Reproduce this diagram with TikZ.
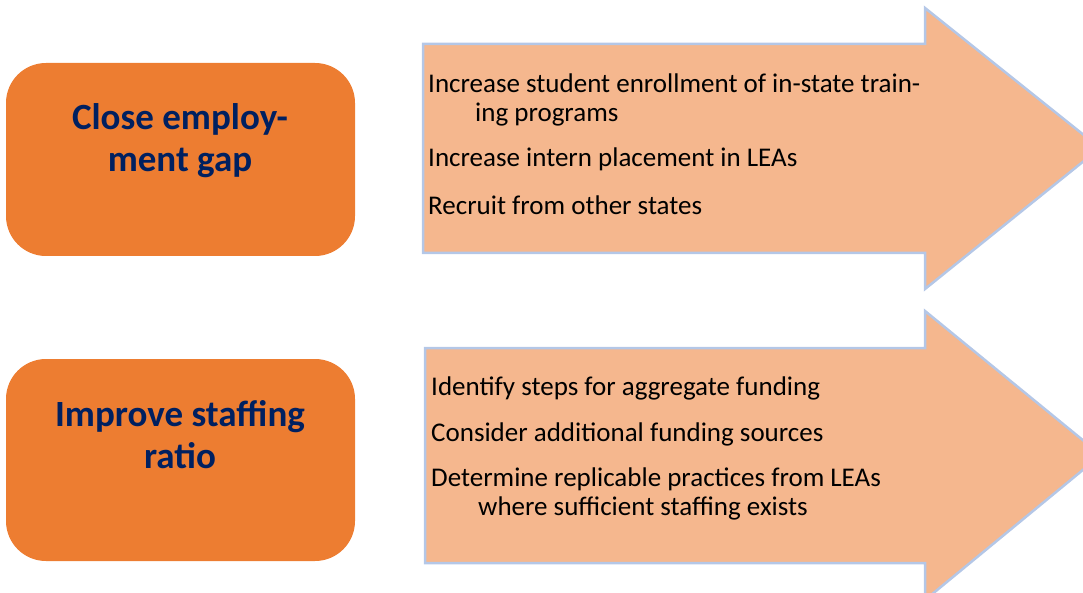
\documentclass[tikz,border=0pt]{standalone}
\usepackage{fontspec}
\setmainfont{Carlito}
\usepackage{tikz}
\usetikzlibrary{positioning}
\definecolor{goalbg}{RGB}{237,125,49}
\definecolor{goalfg}{RGB}{0,32,96}
\definecolor{arrbg}{RGB}{245,183,142}
\definecolor{arrline}{RGB}{180,199,231}
\tikzset{
  goal/.style={fill=goalbg,rounded corners=40pt,minimum width=349pt,inner sep=0pt},
  gtxt/.style={align=center,font=\fontsize{37}{42}\selectfont\bfseries,text=goalfg},
  arr/.style={fill=arrbg,draw=arrline,line width=2.5pt,line join=miter},
  item/.style={anchor=west,align=left,font=\fontsize{27}{29}\selectfont,inner sep=0pt},
}
\begin{document}
\begin{tikzpicture}[x=1pt,y=-1pt]
  \useasboundingbox (0,0) rectangle (1083,593);
  \clip (0,0) rectangle (1083,593);
  % left boxes
  \node[goal,minimum height=193pt] (close) at (180.5,159.5) {};
  \node[gtxt] (closet) at (180,141) {Close employ-\\ment gap};
  \node[goal,minimum height=202pt] (staff) at (180.5,460) {};
  \node[gtxt] (stafft) at (180,435) {Improve staffing\\ratio};
  % arrows
  \draw[arr] (423,44) -- (925,44) -- (925,8) -- (1100,148) -- (925,289) -- (925,253) -- (423,253) -- cycle;
  \draw[arr] (425,348) -- (925,348) -- (925,311) -- (1101,455) -- (925,600) -- (925,563) -- (425,563) -- cycle;
  % first arrow items
  \node[item] (enrol) at (428,100) {Increase student enrollment of in-state train-\\\hspace*{47pt}ing programs};
  \node[item] (intern) at (428,159) {Increase intern placement in LEAs};
  \node[item] (recruit) at (428,205) {Recruit from other states};
  % second arrow items
  \node[item] (steps) at (431,388) {Identify steps for aggregate funding};
  \node[item] (sources) at (431,434) {Consider additional funding sources};
  \node[item] (practice) at (431,494) {Determine replicable practices from LEAs\\\hspace*{47pt}where sufficient staffing exists};
\end{tikzpicture}
\end{document}
